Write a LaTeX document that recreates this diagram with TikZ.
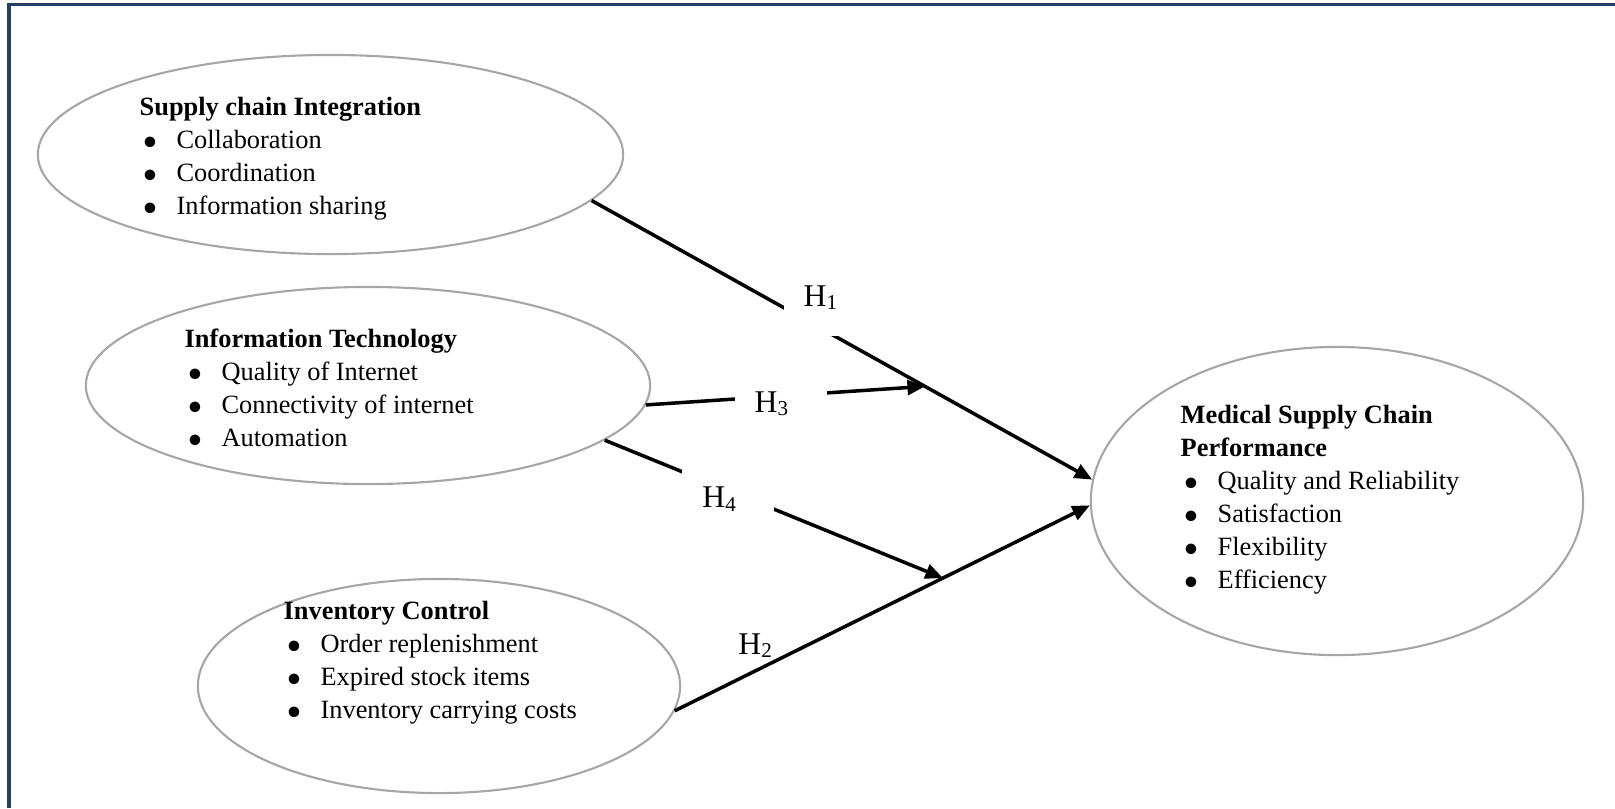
\documentclass[tikz,border=0pt]{standalone}
\usepackage{fontspec}
\setmainfont{Liberation Serif}
\usepackage{tikz}
\usetikzlibrary{positioning, arrows.meta, shapes.geometric, calc}

\definecolor{ringgray}{HTML}{A6A6A6}
\definecolor{framenavy}{HTML}{243F60}

\newcommand{\bul}[1]{\makebox[10.5pt][l]{\hspace{0.9pt}$\bullet$}#1}
\newcommand{\listfont}{\fontsize{7.5}{9.4}\selectfont}

\tikzset{
    construct/.style={ellipse, draw=ringgray, line width=0.6pt, inner sep=0pt},
    itemlist/.style={anchor=base west, inner sep=0pt, font=\listfont},
    link/.style={line width=1pt, -{Triangle[length=5pt, width=4.2pt]}},
    hyp/.style={anchor=base west, inner sep=0pt, font=\fontsize{9}{11}\selectfont},
    hypbox/.style={hyp, fill=white, inner xsep=0.2cm, align=left, text width=0.52cm, text height=0.38cm, text depth=0.3cm}
}

\begin{document}
\begin{tikzpicture}[x=0.01cm, y=-0.01cm]
\useasboundingbox (0,0) rectangle (1615,808);

    % Frame
    \draw[framenavy, line width=0.9pt] (9,808) -- (9,4.5) -- (1615,4.5);

    % Constructs
    \node[construct, minimum width=5.85cm, minimum height=1.99cm] (sci) at (330.5,154.5) {};
    \node[construct, minimum width=5.64cm, minimum height=1.97cm] (it) at (368,385.5) {};
    \node[construct, minimum width=4.82cm, minimum height=2.14cm] (ic) at (439,686) {};
    \node[construct, minimum width=4.92cm, minimum height=3.08cm] (msc) at (1337,501) {};

    % Indicators
    \node[itemlist] (scitxt) at (139,115) {\begin{tabular}[t]{@{}l@{}}
        \textbf{Supply chain Integration}\\ \bul{Collaboration}\\ \bul{Coordination}\\ \bul{Information sharing}
    \end{tabular}};
    \node[itemlist] (ittxt) at (184,347) {\begin{tabular}[t]{@{}l@{}}
        \textbf{Information Technology}\\ \bul{Quality of Internet}\\ \bul{Connectivity of internet}\\ \bul{Automation}
    \end{tabular}};
    \node[itemlist] (ictxt) at (283,619) {\begin{tabular}[t]{@{}l@{}}
        \textbf{Inventory Control}\\ \bul{Order replenishment}\\ \bul{Expired stock items}\\ \bul{Inventory carrying costs}
    \end{tabular}};
    \node[itemlist] (msctxt) at (1180,423) {\begin{tabular}[t]{@{}l@{}}
        \textbf{Medical Supply Chain}\\ \textbf{Performance}\\ \bul{Quality and Reliability}\\ \bul{Satisfaction}\\ \bul{Flexibility}\\ \bul{Efficiency}
    \end{tabular}};

    % Hypothesised paths
    \draw[link] (sci.-10.5) -- (msc.175);
    \draw[link] (ic.-6.4) -- (msc.181);
    \coordinate (j1) at ($(sci.-10.5)!0.666!(msc.175)$);
    \coordinate (j2) at ($(ic.-6.4)!0.646!(msc.181)$);
    \draw[link] (it.-4.9) -- (j1);
    \draw[link] (it.-13.6) -- (j2);

    % Path labels
    \node[hypbox] (h1) at (783,306) {H\textsubscript{1}};
    \node[hypbox] (h3) at (734,412) {H\textsubscript{3}};
    \node[hypbox] (h4) at (681.7,507.7) {H\textsubscript{4}};
    \node[hyp] (h2) at (737.7,654) {H\textsubscript{2}};
\end{tikzpicture}
\end{document}
